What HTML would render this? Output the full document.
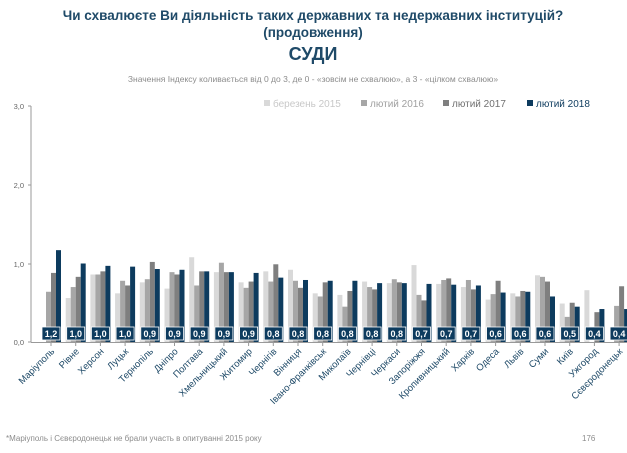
<!DOCTYPE html>
<html><head><meta charset="utf-8"><style>
html,body{margin:0;padding:0;background:#fff;width:627px;height:453px;overflow:hidden}
svg{display:block;font-family:"Liberation Sans","DejaVu Sans",sans-serif}
</style></head><body>
<svg id="s" width="627" height="453" viewBox="0 0 627 453" xmlns="http://www.w3.org/2000/svg">
<text x="313" y="20" text-anchor="middle" font-size="13.5" font-weight="bold" fill="#1f4a68">Чи схвалюєте Ви діяльність таких державних та недержавних інституцій?</text>
<text x="313" y="37" text-anchor="middle" font-size="13.5" font-weight="bold" fill="#1f4a68">(продовження)</text>
<text x="313" y="60" text-anchor="middle" font-size="18" font-weight="bold" fill="#1f4a68">СУДИ</text>
<text x="313" y="82" text-anchor="middle" font-size="8.5" fill="#8c8c8c">Значення Індексу коливається від 0 до 3, де 0 - «зовсім не схвалюю», а 3 - «цілком схвалюю»</text>
<g font-size="10">
<rect x="264" y="100" width="6" height="6" fill="#d9d9d9"/><text x="273" y="107" fill="#c8c8c8">березень 2015</text>
<rect x="361" y="100" width="6" height="6" fill="#a6a6a6"/><text x="370" y="107" fill="#a0a0a0">лютий 2016</text>
<rect x="443" y="100" width="6" height="6" fill="#7f7f7f"/><text x="452" y="107" fill="#707070">лютий 2017</text>
<rect x="527" y="100" width="6" height="6" fill="#0d3b5e"/><text x="536" y="107" fill="#0d3b5e">лютий 2018</text>
</g>
<g font-size="7.5" fill="#666" text-anchor="end">
<text x="24" y="109">3,0</text><text x="24" y="188">2,0</text><text x="24" y="267">1,0</text><text x="24" y="345">0,0</text>
</g>
<g stroke="#999" stroke-width="1">
<line x1="31" y1="106" x2="31" y2="342"/>
<line x1="28" y1="106" x2="31" y2="106"/><line x1="28" y1="185" x2="31" y2="185"/><line x1="28" y1="264" x2="31" y2="264"/><line x1="28" y1="342" x2="31" y2="342"/>
<line x1="31" y1="342.5" x2="627" y2="342.5"/>
</g>
<g id="bars"></g>
<g font-size="9" font-weight="bold" fill="#fff" text-anchor="middle">
<text x="51" y="337">1,2</text><text x="75.7" y="337">1,0</text><text x="100.4" y="337">1,0</text><text x="125.1" y="337">1,0</text><text x="149.8" y="337">0,9</text><text x="174.5" y="337">0,9</text><text x="199.2" y="337">0,9</text><text x="223.9" y="337">0,9</text><text x="248.6" y="337">0,9</text><text x="273.3" y="337">0,8</text><text x="298" y="337">0,8</text><text x="322.7" y="337">0,8</text><text x="347.4" y="337">0,8</text><text x="372.1" y="337">0,8</text><text x="396.8" y="337">0,8</text><text x="421.5" y="337">0,7</text><text x="446.2" y="337">0,7</text><text x="470.9" y="337">0,7</text><text x="495.6" y="337">0,6</text><text x="520.3" y="337">0,6</text><text x="545" y="337">0,6</text><text x="569.7" y="337">0,5</text><text x="594.4" y="337">0,4</text><text x="619.1" y="337">0,4</text>
</g>
<g font-size="9.5" fill="#1f4a68" text-anchor="end">
<text transform="translate(55,352) rotate(-45)">Маріуполь</text>
<text transform="translate(79.7,352) rotate(-45)">Рівне</text>
<text transform="translate(104.4,352) rotate(-45)">Херсон</text>
<text transform="translate(129.1,352) rotate(-45)">Луцьк</text>
<text transform="translate(153.8,352) rotate(-45)">Тернопіль</text>
<text transform="translate(178.5,352) rotate(-45)">Дніпро</text>
<text transform="translate(203.2,352) rotate(-45)">Полтава</text>
<text transform="translate(227.9,352) rotate(-45)">Хмельницький</text>
<text transform="translate(252.6,352) rotate(-45)">Житомир</text>
<text transform="translate(277.3,352) rotate(-45)">Чернігів</text>
<text transform="translate(302,352) rotate(-45)">Вінниця</text>
<text transform="translate(326.7,352) rotate(-45)">Івано-Франківськ</text>
<text transform="translate(351.4,352) rotate(-45)">Миколаїв</text>
<text transform="translate(376.1,352) rotate(-45)">Чернівці</text>
<text transform="translate(400.8,352) rotate(-45)">Черкаси</text>
<text transform="translate(425.5,352) rotate(-45)">Запоріжжя</text>
<text transform="translate(450.2,352) rotate(-45)">Кропивницький</text>
<text transform="translate(474.9,352) rotate(-45)">Харків</text>
<text transform="translate(499.6,352) rotate(-45)">Одеса</text>
<text transform="translate(524.3,352) rotate(-45)">Львів</text>
<text transform="translate(549,352) rotate(-45)">Суми</text>
<text transform="translate(573.7,352) rotate(-45)">Київ</text>
<text transform="translate(598.4,352) rotate(-45)">Ужгород</text>
<text transform="translate(623.1,352) rotate(-45)">Сєвєродонецьк</text>
</g>
<text x="6" y="441" font-size="8" fill="#8c8c8c">*Маріуполь і Сєвєродонецьк не брали участь в опитуванні 2015 року</text>
<text x="582" y="441" font-size="8" fill="#8c8c8c">176</text>
</svg>
<script>
var d=[[0,.64,.88,1.17],[.56,.70,.83,1.0],[.86,.86,.90,.97],[.62,.78,.72,.96],[.76,.80,1.02,.93],[.68,.89,.86,.92],[1.08,.72,.90,.90],[.89,1.01,.89,.89],[.76,.69,.77,.88],[.90,.77,.99,.82],[.92,.78,.69,.79],[.62,.58,.76,.78],[.60,.45,.65,.78],[.77,.70,.67,.75],[.75,.80,.76,.75],[.98,.60,.53,.74],[.74,.79,.81,.73],[.70,.79,.67,.72],[.54,.61,.78,.63],[.62,.58,.65,.64],[.85,.83,.77,.58],[.49,.32,.50,.45],[.66,0,.38,.42],[0,.46,.71,.42]];
var c=["#d9d9d9","#a6a6a6","#7f7f7f","#0d3b5e"],g=document.getElementById("bars"),h="";
d.forEach(function(r,i){var cx=51+i*24.7;r.forEach(function(v,j){var hh=v*78.5;h+='<rect x="'+(cx-10+j*5)+'" y="'+(342-hh)+'" width="5" height="'+hh+'" fill="'+c[j]+'"/>';});
h+='<rect x="'+(cx-9)+'" y="327" width="18" height="13" fill="#0d3b5e" stroke="#fff" stroke-width="0.8"/>';
h+='<line x1="'+cx+'" y1="343" x2="'+cx+'" y2="346" stroke="#999"/>';});
g.innerHTML=h;
</script>
</body></html>
